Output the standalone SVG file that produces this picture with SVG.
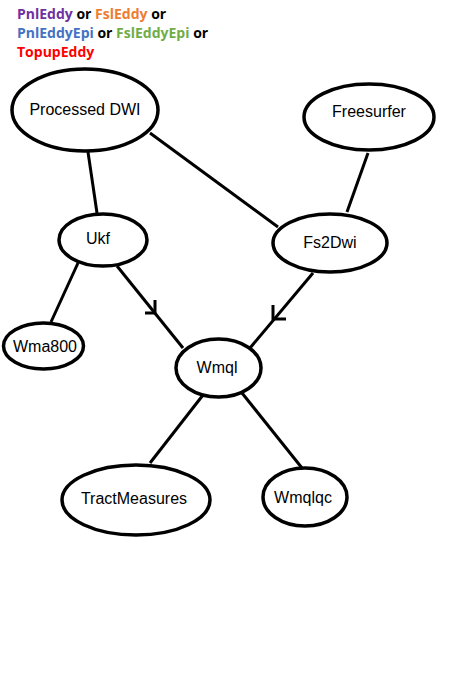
<svg xmlns="http://www.w3.org/2000/svg" width="465" height="674" viewBox="0 0 465 674">
<style>
.n ellipse{fill:#fff;stroke:#000;stroke-width:3.5}
.n text{font-family:"Liberation Sans",Arial,sans-serif;font-size:16px;fill:#000;text-anchor:middle}
.c line,.c path{stroke:#000;stroke-width:3;fill:none}
.h{font-family:"Open Sans","DejaVu Sans",sans-serif;font-size:14px;font-weight:bold}
</style>
<rect width="465" height="674" fill="#fff"/>
<g id="legend" class="h">
<text x="17" y="19"><tspan fill="#7030A0">PnlEddy</tspan><tspan fill="#000"> or </tspan><tspan fill="#ED7D31">FslEddy</tspan><tspan fill="#000"> or</tspan></text>
<text x="17" y="38"><tspan fill="#4472C4">PnlEddyEpi</tspan><tspan fill="#000"> or </tspan><tspan fill="#70AD47">FslEddyEpi</tspan><tspan fill="#000"> or</tspan></text>
<text x="17" y="57" fill="#FF0000">TopupEddy</text>
</g>
<g id="connectors" class="c">
<line x1="88" y1="152" x2="97" y2="213"/>
<line x1="150" y1="133" x2="278" y2="227"/>
<line x1="368" y1="153" x2="347" y2="212"/>
<line x1="78" y1="263" x2="51" y2="322"/>
<line x1="117" y1="266" x2="183" y2="348"/>
<path d="M145 313 H155 V300"/>
<line x1="313" y1="273" x2="250" y2="348"/>
<path d="M273 305 V319 H286"/>
<line x1="203" y1="395" x2="150" y2="463"/>
<line x1="242" y1="393" x2="302" y2="468"/>
</g>
<g id="processed-dwi" class="n"><ellipse cx="85" cy="110" rx="73" ry="41"/><text x="85" y="115">Processed DWI</text></g>
<g id="freesurfer" class="n"><ellipse cx="369" cy="117" rx="65" ry="33"/><text x="369" y="117">Freesurfer</text></g>
<g id="ukf" class="n"><ellipse cx="103" cy="240" rx="44" ry="26"/><text x="98" y="244">Ukf</text></g>
<g id="fs2dwi" class="n"><ellipse cx="330" cy="243" rx="57" ry="29"/><text x="330" y="248">Fs2Dwi</text></g>
<g id="wma800" class="n"><ellipse cx="43.5" cy="346" rx="40" ry="23"/><text x="45" y="352">Wma800</text></g>
<g id="wmql" class="n"><ellipse cx="218.5" cy="368" rx="42.5" ry="29"/><text x="217" y="373">Wmql</text></g>
<g id="tractmeasures" class="n"><ellipse cx="136" cy="500" rx="74" ry="35"/><text x="134" y="504">TractMeasures</text></g>
<g id="wmqlqc" class="n"><ellipse cx="305" cy="497" rx="42" ry="29"/><text x="303" y="503">Wmqlqc</text></g>
</svg>
